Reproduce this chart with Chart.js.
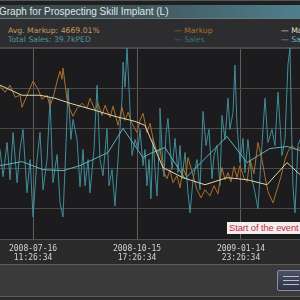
<!DOCTYPE html>
<html><head><meta charset="utf-8">
<script src="https://cdn.jsdelivr.net/npm/chart.js@4/dist/chart.umd.min.js"></script>
<style>
html,body{margin:0;padding:0;background:#1a1a1a;}
#wrap{position:relative;width:300px;height:300px;overflow:hidden;background:#2a2a2b;font-family:"DejaVu Sans",sans-serif;}
#topstrip{position:absolute;left:0;top:0;width:300px;height:5px;background:#1e1f20;border-top:1px solid #555;}
#titlebar{position:absolute;left:0;top:5px;width:300px;height:13px;background:linear-gradient(90deg,#3b4447 0%,#41555b 45%,#4f7f8c 100%);border-bottom:1px solid #6a7a7e;}
#title{position:absolute;left:-1px;top:5px;height:13px;line-height:13px;font-family:"Liberation Sans",Arial,sans-serif;font-size:10px;color:#dfe6e6;white-space:nowrap;}
#legendbox{position:absolute;left:0;top:19px;width:300px;height:28px;background:#2d2d2f;border-bottom:1px solid #4a4a4a;}
.lt{position:absolute;font-size:7.7px;white-space:nowrap;line-height:9px;font-family:"DejaVu Sans",sans-serif;}
#plotbg{position:absolute;left:0;top:48px;width:300px;height:191px;background:#1c1c1f;}
#c{position:absolute;left:0;top:46px;}
#lower{position:absolute;left:0;top:264px;width:300px;height:31px;background:#3a3a3b;border-top:1px solid #5c5c5c;border-bottom:1px solid #5c5c5c;}
#btn{position:absolute;left:277px;top:270px;width:26px;height:21px;background:linear-gradient(#4a5066,#2e3244);border:1px solid #8890a8;border-radius:2px;box-sizing:border-box;}
#btn i{position:absolute;left:5px;width:16px;height:1px;background:#b8bccc;}
#event{position:absolute;left:227px;top:222px;height:12px;line-height:12px;padding:0 1px 0 2px;background:#f2eeee;color:#c8283a;font-family:"Liberation Sans",Arial,sans-serif;font-size:9.4px;letter-spacing:-0.1px;white-space:nowrap;}
</style></head>
<body>
<div id="wrap">
  <div id="topstrip"></div>
  <div id="titlebar"></div>
  <div id="title">Graph for Prospecting Skill Implant (L)</div>
  <div id="legendbox"></div>
  <div class="lt" style="left:8px;top:26px;color:#c89a5c;">Avg. Markup: 4669.01%</div>
  <div class="lt" style="left:8px;top:35px;color:#4f949c;">Total Sales: 39.7kPED</div>
  <div class="lt" style="left:174px;top:26px;color:#a8702e;">— Markup</div>
  <div class="lt" style="left:174px;top:35px;color:#3d6f74;">— Sales</div>
  <div class="lt" style="left:281px;top:26px;color:#e8e2cc;">— Markup avg.</div>
  <div class="lt" style="left:281px;top:35px;color:#5fb4bc;">— Sales avg.</div>
  <div id="plotbg"></div>
  <canvas id="c" width="300" height="218"></canvas>
  <div id="event">Start of the event</div>
  <div id="lower"></div>
  <div id="btn"><i style="top:5px"></i><i style="top:9px"></i><i style="top:13px"></i></div>
</div>
<script>
// x values: days relative to 2008-07-16 11:26:34
const tickDays = [0, 91.25, 182.5];
const tickLabels = [["2008-07-16","11:26:34"],["2008-10-15","17:26:34"],["2009-01-14","23:26:34"]];
const xMin = -29.0, xMax = 234.3;

const markupDays = [-29.0,-24.6,-20.2,-15.8,-11.4,-9.7,-5.3,0,4.4,7.9,12.3,14.9,18.4,21.1,23.7,25.4,26.3,29.8,32.5,35.1,38.6,43.0,47.4,50.0,54.4,57.0,60.5,63.2,67.6,70.2,74.6,78.1,80.7,83.4,86.9,91.2,93.9,96.5,100.0,102.7,105.3,108.8,111.4,114.1,117.6,120.2,122.8,126.3,129.0,131.6,134.2,136.0,139.5,143.9,147.4,150.9,155.3,158.8,162.3,165.8,168.5,171.1,173.7,176.4,179.0,181.6,185.1,187.8,190.4,193.9,197.4,200.9,203.6,206.2,210.6,214.1,217.6,221.1,223.7,227.2,230.8,234.3];
const markupValues = [122,116,123,111,113,101,113,127,119,109,113,102,114,127,137,129,140,109,99,92,100,105,100,110,98,105,93,103,91,102,83,101,88,96,85,76,88,95,76,85,70,56,60,38,30,39,26,33,21,41,33,51,37,19,11,19,13,23,15,41,29,36,27,42,31,43,31,27,49,35,66,49,32,17,6,19,32,49,57,63,59,61];

const markupAvgDays = [-29.0,-9.7,6.1,19.3,32.5,54.4,71.9,89.5,98.3,102.7,114.1,131.6,150.9,170.2,187.8,205.3,222.9,234.3];
const markupAvgValues = [123,113,113,110,105,98,92,87,83,71,41,31,24,31,29,24,46,34];

const salesDays = [-29.0,-26.3,-22.8,-20.2,-17.5,-14.0,-11.4,-8.8,-5.3,-2.6,0,3.5,6.1,8.8,12.3,14.9,17.5,21.1,23.7,26.3,29.0,30.7,33.3,35.1,38.6,41.2,43.9,45.6,48.3,50.0,53.5,56.2,58.8,61.4,64.9,66.7,69.3,71.9,74.6,76.3,78.1,79.0,80.7,82.5,85.1,86.9,89.5,92.1,93.9,96.5,98.3,100.0,101.8,103.5,105.3,107.0,108.8,110.6,111.4,113.2,114.9,116.7,118.4,120.2,122.0,124.6,127.2,129.0,130.7,133.4,136.0,137.8,140.4,143.9,146.5,149.2,151.8,154.4,157.1,158.8,161.4,164.1,165.8,168.5,171.1,172.8,175.5,177.2,179.0,181.6,184.3,186.0,188.6,192.2,194.8,197.4,200.9,203.6,206.2,209.7,212.3,215.0,218.5,221.1,223.7,225.5,227.2,228.1,229.9,232.5,234.3];
const salesValues = [59,32,66,29,76,26,59,79,16,49,-8,49,76,19,49,110,26,54,6,-8,66,120,69,89,69,22,59,23,49,16,59,123,49,33,80,23,39,3,49,80,109,146,121,160,99,53,69,59,79,43,59,23,49,10,70,39,13,59,100,59,32,74,90,63,39,70,36,63,30,56,16,-4,29,49,19,97,63,79,30,53,63,23,93,69,110,79,96,143,83,46,70,36,69,29,16,0,63,110,66,79,63,116,53,69,143,160,63,23,-4,63,69];

const salesAvgDays = [-29.0,-9.7,8.8,26.3,41.2,54.4,65.8,79.0,96.5,102.7,115.8,133.4,170.2,187.8,207.9,222.9,234.3];
const salesAvgValues = [43,47,39,38,43,50,56,80,51,55,61,30,72,46,60,62,58];

function pts(xs, ys){ return xs.map((x,i)=>({x:x, y:ys[i]})); }

const bgPlugin = {
  id:'bg',
  beforeDraw(chart){
    const a = chart.chartArea, ctx = chart.ctx;
    ctx.save(); ctx.fillStyle = '#1c1c1f';
    ctx.fillRect(a.left, a.top, a.right-a.left, a.bottom-a.top);
    ctx.restore();
  }
};

new Chart(document.getElementById('c'), {
  type:'line',
  data:{datasets:[
    {label:'Markup avg.', data:pts(markupAvgDays, markupAvgValues), borderColor:'#e2d6aa', borderWidth:1, order:0},
    {label:'Sales avg.', data:pts(salesAvgDays, salesAvgValues), borderColor:'#5cb2ba', borderWidth:1, order:1},
    {label:'Markup', data:pts(markupDays, markupValues), borderColor:'#ad6f2c', borderWidth:1, order:2},
    {label:'Sales', data:pts(salesDays, salesValues), borderColor:'#428d98', borderWidth:1, order:3}
  ]},
  options:{
    responsive:false, animation:false,
    layout:{padding:{top:2,left:0,right:0,bottom:0}},
    elements:{point:{radius:0}, line:{tension:0}},
    plugins:{legend:{display:false}, tooltip:{enabled:false}},
    scales:{
      x:{type:'linear', min:xMin, max:xMax,
        afterBuildTicks(s){ s.ticks = tickDays.map(v=>({value:v})); },
        afterFit(s){ s.height = 25; },
        ticks:{autoSkip:false, maxRotation:0, padding:5, color:'#d4d4d4',
          font:{family:'"DejaVu Sans Mono", monospace', size:8, lineHeight:1.15},
          callback(v, i){ return tickLabels[i]; }},
        grid:{color:'#5e5e5e', drawTicks:false},
        border:{color:'#505050'}
      },
      y:{type:'linear', min:-30, max:160,
        afterBuildTicks(s){ s.ticks = [0,40,80,120,160].map(v=>({value:v})); },
        afterFit(s){ s.width = 0; },
        ticks:{display:false},
        grid:{color:'#4a4a4a', drawTicks:false},
        border:{display:false}
      }
    }
  },
  plugins:[bgPlugin]
});
</script>
</body></html>
